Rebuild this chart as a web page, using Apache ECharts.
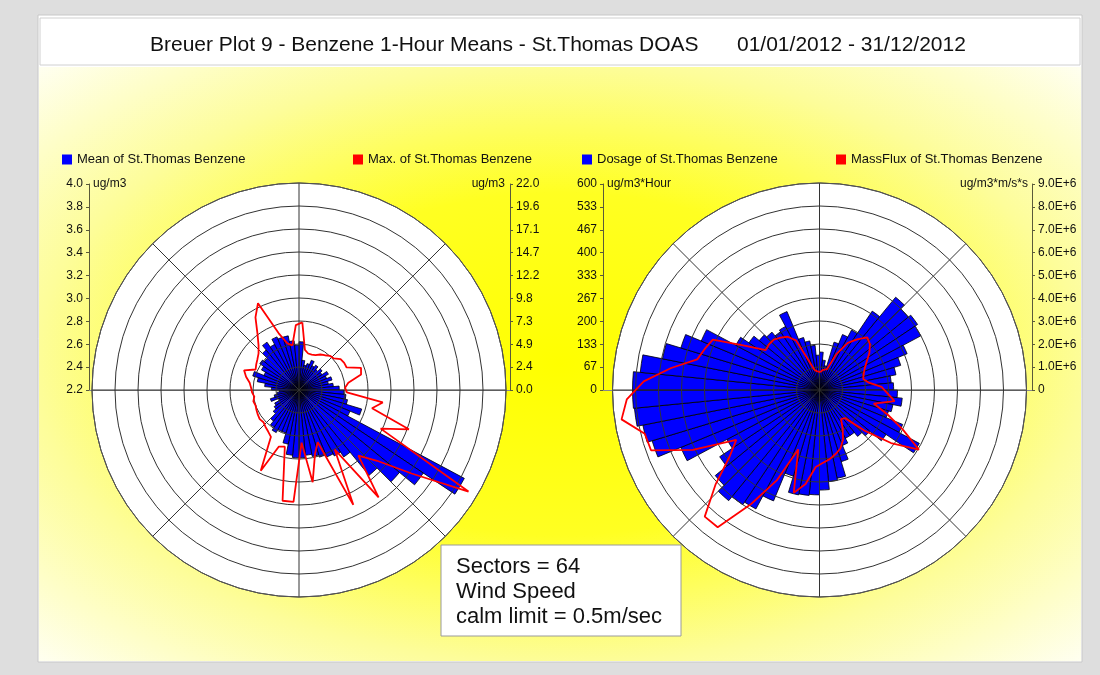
<!DOCTYPE html>
<html><head><meta charset="utf-8">
<script src="https://cdn.jsdelivr.net/npm/echarts@6/dist/echarts.min.js"></script>
<style>html,body{margin:0;padding:0;background:#dedede}#c{width:1100px;height:675px}</style>
</head><body><div id="c"></div>
<script>
// 64 wind sectors, start direction in degrees (clockwise from north)
const sectors = Array.from({length: 64}, (_, i) => (i * 5.625).toFixed(1));

// Left rose: mean benzene (ug/m3) and max benzene (ug/m3)
const meanBenzene = [
  2.62,2.46,2.42,2.44,2.48,2.44,2.46,2.43,2.46,2.44,2.49,2.46,2.50,2.46,2.50,2.55,
  2.59,2.61,2.63,2.77,2.68,3.83,3.50,3.33,3.16,2.90,2.85,2.83,2.81,2.79,2.77,2.79,
  2.79,2.77,2.68,2.59,2.59,2.62,2.59,2.55,2.49,2.46,2.44,2.39,2.46,2.42,2.39,2.37,
  2.44,2.50,2.57,2.62,2.53,2.57,2.61,2.59,2.65,2.70,2.65,2.70,2.68,2.68,2.63,2.59
];
const maxBenzene = [
  7.2,4.3,4.0,4.0,4.1,4.4,4.6,4.9,5.0,5.5,5.6,5.6,7.0,6.8,5.3,4.9,
  5.1,9.0,8.0,12.4,9.6,21.0,14.9,11.2,9.4,14.2,7.4,13.5,5.9,7.0,9.9,5.6,
  11.9,11.9,6.2,6.4,9.5,5.8,5.5,5.3,5.1,5.2,5.1,5.0,4.9,5.0,4.8,5.0,
  5.1,5.3,5.8,6.2,5.1,5.3,5.5,5.8,6.4,7.4,9.0,10.2,6.4,5.1,4.8,6.9
];
// Right rose: dosage (ug/m3*Hour) and mass flux (ug/m3*m/s*s)
const dosageBenzene = [
  110,87,72,145,174,197,275,348,333,342,333,275,246,226,209,215,
  226,241,217,209,261,328,232,188,174,159,159,174,217,261,267,290,
  304,307,310,261,348,391,400,415,391,348,304,435,507,522,539,542,
  542,522,464,420,371,275,246,226,217,203,209,246,159,145,130,101
];
const massFluxBenzene = [
  0.78e6,0.87e6,0.91e6,0.96e6,1.74e6,2.39e6,2.74e6,3.09e6,2.96e6,2.70e6,2.39e6,2.17e6,2.04e6,1.96e6,2.17e6,2.70e6,
  2.96e6,3.30e6,2.43e6,3.13e6,4.00e6,5.04e6,3.87e6,2.61e6,1.65e6,1.57e6,1.96e6,2.39e6,2.70e6,2.87e6,3.04e6,3.17e6,
  3.35e6,4.13e6,4.61e6,2.74e6,4.35e6,5.78e6,7.43e6,7.43e6,6.09e6,4.87e6,4.22e6,6.09e6,7.78e6,7.83e6,8.70e6,8.39e6,
  7.65e6,6.52e6,5.48e6,5.30e6,5.13e6,3.74e6,2.91e6,2.96e6,2.96e6,2.83e6,2.70e6,2.39e6,1.30e6,0.91e6,0.83e6,0.78e6
];

// Axis ranges (as labelled on the chart)
const meanRange = [2.2, 4.0, 0.2];
const maxRange = [0, 22, 22 / 9];
const dosageRange = [0, 600, 600 / 9];
const fluxRange = [0, 9e6, 1e6];

const seriesNames = ['Mean of St.Thomas Benzene', 'Max. of St.Thomas Benzene',
                     'Dosage of St.Thomas Benzene', 'MassFlux of St.Thomas Benzene'];
const titleMain = 'Breuer Plot 9 - Benzene 1-Hour Means - St.Thomas DOAS';
const titleDates = '01/01/2012 - 31/12/2012';
const infoLines = ['Sectors = 64', 'Wind Speed', 'calm limit = 0.5m/sec'];

const FONT = 'Arial, "Liberation Sans", Helvetica, sans-serif';
const L = {cx: 299, cy: 390, r: 207};
const R = {cx: 819.5, cy: 390, r: 207};
const step = 360 / sectors.length;

function closedLine(vals) {
  const pts = vals.map((v, i) => [v, (i + 0.5) * step]);
  pts.push([vals[0], 360 + 0.5 * step]);
  return pts;
}

const chart = echarts.init(document.getElementById('c'), null, {renderer: 'canvas'});

function polarGridAngle(idx) {
  return {polarIndex: idx, type: 'value', min: 0, max: 360, interval: 45, startAngle: 90, clockwise: true,
    axisLine: {show: true, lineStyle: {color: '#555', width: 1}}, axisTick: {show: false}, axisLabel: {show: false},
    splitLine: {show: true, lineStyle: {color: '#333', width: 1}}, z: 4};
}
function polarBarAngle(idx) {
  return {polarIndex: idx, type: 'category', data: sectors, startAngle: 90, clockwise: true, boundaryGap: true,
    axisLine: {show: false}, axisTick: {show: false}, axisLabel: {show: false}, splitLine: {show: false}, z: 1};
}
function hiddenRadius(idx, rng) {
  return {polarIndex: idx, type: 'value', min: rng[0], max: rng[1], axisLine: {show: false}, axisTick: {show: false},
    axisLabel: {show: false}, splitLine: {show: false}, z: 1};
}
function gridRadius(idx, rng) {
  return {polarIndex: idx, type: 'value', min: rng[0], max: rng[1], interval: rng[2], axisLine: {show: false},
    axisTick: {show: false}, axisLabel: {show: false}, splitLine: {show: true, lineStyle: {color: '#333', width: 1}}, z: 4};
}
function yAx(gridIndex, pos, rng, fmt) {
  return {gridIndex, type: 'value', position: pos, min: rng[0], max: rng[1], interval: rng[2],
    axisLine: {show: true, lineStyle: {color: '#5a5a3a', width: 1}},
    axisTick: {show: true, length: 3, lineStyle: {color: '#5a5a3a'}},
    splitLine: {show: false},
    axisLabel: {show: true, margin: 6, color: '#111', fontSize: 12, fontFamily: FONT, formatter: fmt}};
}
function xAx(gridIndex) {
  return {gridIndex, type: 'value', min: 0, max: 1, axisLine: {show: true, lineStyle: {color: '#888', width: 1}},
    axisTick: {show: false}, axisLabel: {show: false}, splitLine: {show: false}};
}
function legend(name, left) {
  return {data: [name], left, top: 153, padding: 0, icon: 'rect', itemWidth: 10, itemHeight: 10, selectedMode: false,
    itemStyle: {borderWidth: 0}, textStyle: {fontSize: 13, color: '#111', fontFamily: FONT}};
}

const option = {
  animation: false,
  backgroundColor: '#dedede',
  title: [
    {text: titleMain, left: 145, top: 30, textStyle: {fontSize: 21, fontWeight: 'normal', color: '#111', fontFamily: FONT}},
    {text: titleDates, left: 732, top: 30, textStyle: {fontSize: 21, fontWeight: 'normal', color: '#111', fontFamily: FONT}}
  ],
  legend: [legend(seriesNames[0], 62), legend(seriesNames[1], 353), legend(seriesNames[2], 582), legend(seriesNames[3], 836)],
  graphic: {elements: [
    {type: 'rect', z: -20, shape: {x: 38, y: 15, width: 1044, height: 647}, style: {fill: '#ffffff', stroke: '#c8c8c8', lineWidth: 1}},
    {type: 'rect', z: -19, x: 39, y: 67, scaleX: 1042 / 600, scaleY: 594 / 600, shape: {x: 0, y: 0, width: 600, height: 600},
      style: {fill: {type: 'radial', x: 0.5, y: 0.5, r: 0.72, colorStops: [
        {offset: 0, color: '#ffff00'}, {offset: 0.4, color: '#ffff22'}, {offset: 0.7, color: '#fdfd9a'}, {offset: 1, color: '#fffff6'}]}}},
    {type: 'rect', z: -18, shape: {x: 40, y: 18, width: 1040, height: 47}, style: {fill: '#ffffff', stroke: '#d0d0d0', lineWidth: 1}},
    {type: 'circle', z: -5, shape: {cx: L.cx, cy: L.cy, r: L.r}, style: {fill: '#ffffff'}},
    {type: 'circle', z: -5, shape: {cx: R.cx, cy: R.cy, r: R.r}, style: {fill: '#ffffff'}},
    {type: 'text', z: 10, x: 93, y: 184, style: {text: 'ug/m3', fill: '#111', font: '12px ' + FONT, textVerticalAlign: 'middle'}},
    {type: 'text', z: 10, x: 505, y: 184, style: {text: 'ug/m3', fill: '#111', font: '12px ' + FONT, textAlign: 'right', textVerticalAlign: 'middle'}},
    {type: 'text', z: 10, x: 607, y: 184, style: {text: 'ug/m3*Hour', fill: '#111', font: '12px ' + FONT, textVerticalAlign: 'middle'}},
    {type: 'text', z: 10, x: 1028, y: 184, style: {text: 'ug/m3*m/s*s', fill: '#111', font: '12px ' + FONT, textAlign: 'right', textVerticalAlign: 'middle'}},
    {type: 'rect', z: 20, shape: {x: 441, y: 545, width: 240, height: 91}, style: {fill: '#ffffff', stroke: '#9a9a9a', lineWidth: 1}},
    {type: 'text', z: 21, x: 456, y: 567, style: {text: infoLines[0], fill: '#111', font: '22px ' + FONT, textVerticalAlign: 'middle'}},
    {type: 'text', z: 21, x: 456, y: 592, style: {text: infoLines[1], fill: '#111', font: '22px ' + FONT, textVerticalAlign: 'middle'}},
    {type: 'text', z: 21, x: 456, y: 617, style: {text: infoLines[2], fill: '#111', font: '22px ' + FONT, textVerticalAlign: 'middle'}}
  ]},
  grid: [
    {left: 89, top: 184, width: 421, height: 206, show: false},
    {left: 603, top: 184, width: 429, height: 206, show: false}
  ],
  xAxis: [xAx(0), xAx(1)],
  yAxis: [
    yAx(0, 'left', meanRange, v => v.toFixed(1)),
    yAx(0, 'right', maxRange, v => v.toFixed(1)),
    yAx(1, 'left', dosageRange, v => String(Math.round(v))),
    yAx(1, 'right', fluxRange, v => v === 0 ? '0' : (v / 1e6).toFixed(1) + 'E+6')
  ],
  polar: [
    {center: [L.cx, L.cy], radius: L.r},
    {center: [L.cx, L.cy], radius: L.r},
    {center: [R.cx, R.cy], radius: R.r},
    {center: [R.cx, R.cy], radius: R.r}
  ],
  angleAxis: [polarBarAngle(0), polarGridAngle(1), polarBarAngle(2), polarGridAngle(3)],
  radiusAxis: [hiddenRadius(0, meanRange), gridRadius(1, maxRange), hiddenRadius(2, dosageRange), gridRadius(3, fluxRange)],
  series: [
    {name: seriesNames[0], type: 'bar', coordinateSystem: 'polar', polarIndex: 0, data: meanBenzene,
      barCategoryGap: '0%', z: 2, color: '#0000ff', itemStyle: {color: '#0000ff', borderColor: '#000', borderWidth: 0.8}},
    {name: seriesNames[1], type: 'line', coordinateSystem: 'polar', polarIndex: 1, data: closedLine(maxBenzene),
      showSymbol: false, symbol: 'none', z: 6, color: '#ff0000', lineStyle: {color: '#ff0000', width: 1.8}},
    {name: seriesNames[2], type: 'bar', coordinateSystem: 'polar', polarIndex: 2, data: dosageBenzene,
      barCategoryGap: '0%', z: 2, color: '#0000ff', itemStyle: {color: '#0000ff', borderColor: '#000', borderWidth: 0.8}},
    {name: seriesNames[3], type: 'line', coordinateSystem: 'polar', polarIndex: 3, data: closedLine(massFluxBenzene),
      showSymbol: false, symbol: 'none', z: 6, color: '#ff0000', lineStyle: {color: '#ff0000', width: 1.8}}
  ]
};
chart.setOption(option);
</script>
</body></html>
